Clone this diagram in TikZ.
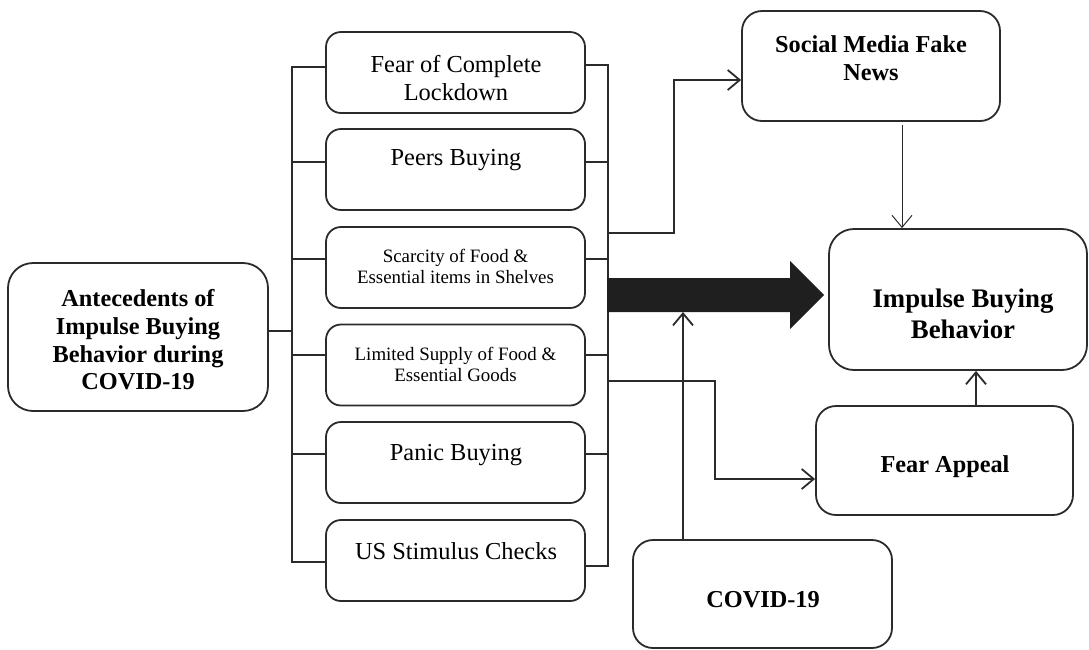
\documentclass[tikz,border=0pt]{standalone}
\usepackage{fontspec}
\setmainfont{Liberation Serif}
\usetikzlibrary{arrows.meta,calc}
\definecolor{ink}{HTML}{2B2B2B}
\definecolor{fillink}{HTML}{1F1F1F}
\tikzset{
  box/.style={draw=ink, line width=1.8pt, rounded corners=#1, inner sep=0pt},
  box/.default=15pt,
  midbox/.style={box=15pt, minimum width=259pt, minimum height=81pt},
  ln/.style={draw=ink, line width=1.8pt},
  arr/.style={ln, -{Straight Barb[length=12pt,width=20pt]}},
  thinarr/.style={draw=ink, line width=1pt, -{Straight Barb[length=12pt,width=20pt]}},
  regtxt/.style={text=black, align=center, inner sep=0pt, font=\fontsize{24.4}{28}\selectfont},
  smalltxt/.style={text=black, align=center, inner sep=0pt, font=\fontsize{18.9}{21}\selectfont},
  boldtxt/.style={text=black, align=center, inner sep=0pt, font=\bfseries\fontsize{24.3}{27.7}\selectfont},
  bigtxt/.style={text=black, align=center, inner sep=0pt, font=\bfseries\fontsize{26.8}{31}\selectfont},
}
\begin{document}
\begin{tikzpicture}[x=1pt, y=-1pt]
\useasboundingbox (0,0) rectangle (1089,649);

% left node
\node[box=25pt, minimum width=260pt, minimum height=148pt] (ante) at (138,337) {};
\node[boldtxt] (antet) at (138,340) {Antecedents of\\Impulse Buying\\Behavior during\\COVID-19};

% middle boxes
\node[midbox] (fear) at (455.5,72.5) {};
\node[regtxt] (feart) at (456,78) {Fear of Complete\\Lockdown};
\node[midbox] (peers) at (455.5,169.5) {};
\node[regtxt] (peerst) at (456,160) {Peers Buying};
\node[midbox] (scar) at (455.5,267.5) {};
\node[smalltxt] (scart) at (455.5,266) {Scarcity of Food \&\\Essential items in Shelves};
\node[midbox] (lim) at (455.5,365) {};
\node[smalltxt] (limt) at (455.5,364) {Limited Supply of Food \&\\Essential Goods};
\node[midbox] (panic) at (455.5,462.5) {};
\node[regtxt] (panict) at (456,455) {Panic Buying};
\node[midbox] (us) at (455.5,560.5) {};
\node[regtxt] (ust) at (456,551) {US Stimulus Checks};

% right boxes
\node[box=20pt, minimum width=258pt, minimum height=110pt] (social) at (871,66) {};
\node[boldtxt] (socialt) at (871,58) {Social Media Fake\\News};
\node[box=25pt, minimum width=258pt, minimum height=141pt] (impulse) at (958,299.5) {};
\node[bigtxt] (impulset) at (963,314) {Impulse Buying\\Behavior};
\node[box=20pt, minimum width=257pt, minimum height=109pt] (fearap) at (944.5,460.5) {};
\node[boldtxt] (fearapt) at (945,467) {Fear Appeal};
\node[box=20pt, minimum width=259pt, minimum height=108pt] (covid) at (762.5,594) {};
\node[boldtxt] (covidt) at (763,600) {COVID-19};

% brackets
\coordinate (lt) at (292,67);
\coordinate (lb) at (292,562);
\coordinate (rt) at (608,65);
\coordinate (rb) at (608,566);
\draw[ln] (fear.west |- lt) -- (lt) -- (lb) -- (us.west |- lb);
\draw[ln] (fear.east |- rt) -- (rt) -- (rb) -- (us.east |- rb);
\draw[ln] (ante.east |- 0,331) -- (lt |- 0,331);
\draw[ln] (peers.west |- 0,162) -- (lt |- 0,162);
\draw[ln] (scar.west |- 0,259) -- (lt |- 0,259);
\draw[ln] (lim.west |- 0,355) -- (lt |- 0,355);
\draw[ln] (panic.west |- 0,454) -- (lt |- 0,454);
\draw[ln] (peers.east |- 0,162) -- (rt |- 0,162);
\draw[ln] (scar.east |- 0,259) -- (rt |- 0,259);
\draw[ln] (lim.east |- 0,355) -- (rt |- 0,355);
\draw[ln] (panic.east |- 0,454) -- (rt |- 0,454);

% arrow to social media
\coordinate (r1) at (608,233);
\coordinate (j1) at (674,0);
\draw[arr] (r1) -- (r1 -| j1) |- ([yshift=-14pt]social.west);
% social -> impulse
\draw[thinarr] ([xshift=31pt,yshift=-3pt]social.south) -- ([xshift=31pt]social.south |- impulse.north);

% big arrow
\coordinate (bigtop) at (607,278);
\coordinate (bigbot) at (683,312);
\fill[fillink] (bigtop) -- (790,278) -- (790,261) -- (824,295) -- (790,329) -- (790,312) -- (607,312) -- cycle;

% covid -> big arrow
\draw[arr] (covid.north -| bigbot) -- (bigbot);

% limited -> fear appeal
\coordinate (r2) at (608,381);
\coordinate (j2) at (715,0);
\draw[arr] (r2) -- (r2 -| j2) |- ([yshift=-18.5pt]fearap.west);

% fear appeal -> impulse
\draw[arr] ([xshift=31.5pt]fearap.north) -- ([xshift=31.5pt]fearap.north |- impulse.south);
\end{tikzpicture}
\end{document}
